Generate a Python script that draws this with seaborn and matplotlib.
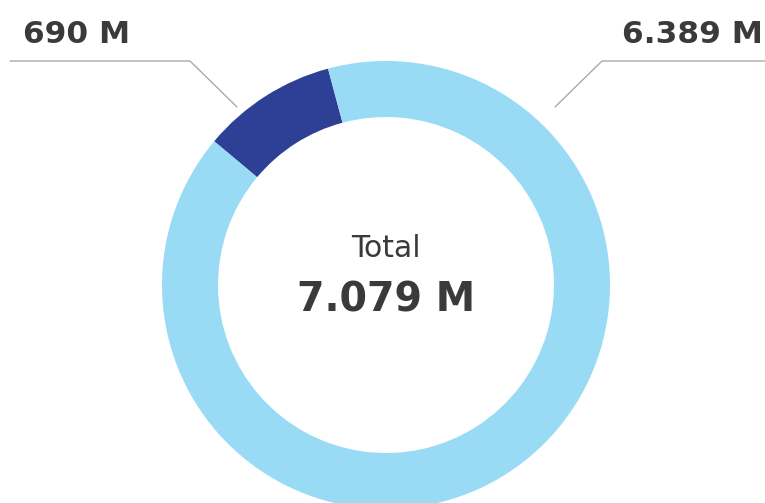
import matplotlib
matplotlib.use("Agg")
import matplotlib.pyplot as plt
import seaborn as sns

# data
segments = ["Segment A", "Segment B"]
values = [690, 6389]
value_labels = ["690 M", "6.389 M"]
colors = ["#2E4095", "#99DBF5"]
total_title = "Total"


def fmt_total(v):
    return f"{v:,} M".replace(",", ".")


def plot():
    sns.set_theme(style="white")
    plt.rcParams["font.family"] = ["DejaVu Sans"]

    W, H = 765, 503
    fig = plt.figure(figsize=(W / 100, H / 100), dpi=100)
    ax = fig.add_axes([0, 0, 1, 1])

    # work in pixel coords with y measured from the top
    def py(y):
        return H - y

    cx, cy, r_out, r_in = 386, 285, 224, 168
    ax.pie(values, colors=colors, startangle=105, counterclock=True,
           center=(cx, py(cy)), radius=r_out, frame=True,
           wedgeprops=dict(width=r_out - r_in, linewidth=0))
    ax.set_xlim(0, W)
    ax.set_ylim(0, H)
    ax.set_aspect("equal")
    ax.axis("off")

    text_col = "#3a3a3a"
    line_col = "#aaaaaa"

    # leader lines
    ax.plot([237, 190, 10], [py(107), py(61), py(61)], color=line_col, lw=1)
    ax.plot([555, 602, 765], [py(107), py(61), py(61)], color=line_col, lw=1)

    ax.text(23, py(43), value_labels[0], ha="left", va="baseline",
            fontsize=22.5, fontweight="bold", color=text_col)
    ax.text(763, py(43), value_labels[1], ha="right", va="baseline",
            fontsize=22.5, fontweight="bold", color=text_col)

    ax.text(cx, py(257), total_title, ha="center", va="baseline",
            fontsize=21.5, color=text_col)
    ax.text(cx, py(311), fmt_total(sum(values)), ha="center", va="baseline",
            fontsize=28.5, fontweight="bold", color=text_col)

    fig.savefig("out.png", dpi=100)
    plt.close(fig)


if __name__ == "__main__":
    plot()
